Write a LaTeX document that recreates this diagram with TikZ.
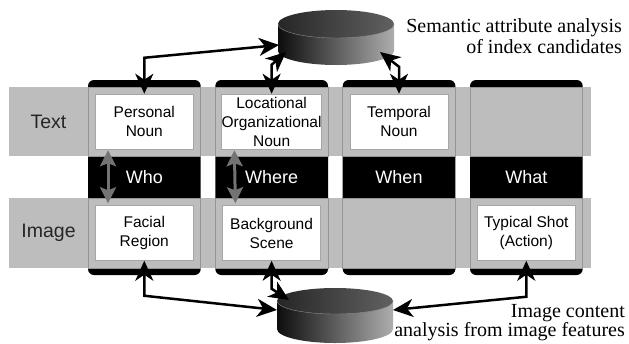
\documentclass[tikz,border=0pt]{standalone}
\usepackage{fontspec}
\setmainfont{Liberation Serif}
\newfontfamily\boxfont{Liberation Sans}
\usetikzlibrary{arrows.meta}
\begin{document}
\begin{tikzpicture}[x=1pt,y=1pt,
  colblk/.style={fill=black, rounded corners=6pt},
  band/.style={fill=black!26},
  bandedge/.style={draw=black!42, line width=0.8pt},
  wbox/.style={fill=white, draw=black!35, line width=0.5pt, minimum width=98pt, minimum height=55pt, inner sep=0pt, align=center, font=\boxfont\fontsize{15.5}{19}\selectfont},
  side/.style={font=\boxfont\fontsize{19.5}{22}\selectfont, text=black!85},
  wlabel/.style={font=\boxfont\fontsize{18}{20}\selectfont, text=white},
  captext/.style={font=\fontsize{20}{22}\selectfont, anchor=base east, inner sep=0pt},
  link/.style={line width=2.5pt, {Stealth[length=20pt,width=18pt,inset=6pt]}-{Stealth[length=20pt,width=18pt,inset=6pt]}},
  glink/.style={draw=black!55, line width=3pt, {Stealth[length=16pt,width=16pt,inset=3pt]}-{Stealth[length=16pt,width=16pt,inset=3pt]}},
  cylbody/.style={left color=black!95, right color=black!32},
  cyltop/.style={left color=black!85, right color=black!62},
  cylrim/.style={draw=black!45, line width=0.4pt},
]
\useasboundingbox (0,0) rectangle (629,-343);

% columns
\foreach \x in {88,215.3,342.7,470}
  \fill[colblk] (\x,-80) rectangle ++(112.7,-195);

% bands
\fill[band] (9,-87) rectangle (591,-156);
\fill[band] (9,-198) rectangle (591,-268);
\foreach \x in {88,215.3,342.7,470}{
  \draw[bandedge] (\x,-87) rectangle ++(112.7,-69);
  \draw[bandedge] (\x,-198) rectangle ++(112.7,-70);
}

% side labels
\node[side] (ltext) at (48.5,-121.5) {Text};
\node[side] (limage) at (48.5,-233) {Image};

% boxes
\node[wbox] (pn) at (144.3,-121.5) {Personal\\Noun};
\node[wbox] (ln) at (271.6,-121.5) {Locational\\Organizational\\Noun};
\node[wbox] (tn) at (399,-121.5) {Temporal\\Noun};
\node[wbox] (fr) at (144.3,-233) {Facial\\Region};
\node[wbox] (bs) at (271.6,-233) {Background\\Scene};
\node[wbox] (ts) at (526.3,-233) {Typical Shot\\(Action)};

% W labels
\node[wlabel] (who) at (144.3,-177) {Who};
\node[wlabel] (where) at (271.6,-177) {Where};
\node[wlabel] (when) at (399,-177) {When};
\node[wlabel] (what) at (526.3,-177) {What};

% gray arrows
\draw[glink] ([xshift=13pt,yshift=-1pt]pn.south west) -- ([xshift=13pt,yshift=2pt]fr.north west);
\draw[glink] ([xshift=13pt,yshift=-1pt]ln.south west) -- ([xshift=13pt,yshift=2pt]bs.north west);

% top cylinder
\shade[cylbody] (278,-24) -- (278,-51) arc[start angle=180,end angle=360,x radius=58pt,y radius=14pt] -- (394,-24) -- cycle;
\shade[cyltop] (336,-24) ellipse [x radius=58pt, y radius=14pt];
\draw[cylrim] (278,-24) arc[start angle=180,end angle=360,x radius=58pt,y radius=14pt];
\coordinate (tA) at (279,-45);
\coordinate (tB) at (286,-52);
\coordinate (tC) at (380,-52);

% bottom cylinder
\shade[cylbody] (277,-301) -- (277,-329) arc[start angle=180,end angle=360,x radius=58pt,y radius=14pt] -- (393,-301) -- cycle;
\shade[cyltop] (335,-301) ellipse [x radius=58pt, y radius=13pt];
\draw[cylrim] (277,-301) arc[start angle=180,end angle=360,x radius=58pt,y radius=13pt];
\coordinate (bA) at (277,-310);
\coordinate (bB) at (289,-300);
\coordinate (bC) at (393,-310);

% black links
\draw[link] (pn.north) -- ++(0,36) -- (tA);
\draw[link] (ln.north) -- ++(0,29) -- (tB);
\draw[link] (tn.north) -- ++(0,27) -- (tC);
\draw[link] (fr.south) -- ++(0,-35) -- (bA);
\draw[link] (bs.south) -- ++(0,-28) -- (bB);
\draw[link] (ts.south) -- ++(0,-36) -- (bC);

% captions
\node[captext] (capA1) at (622,-32) {Semantic attribute analysis};
\node[captext] (capA2) at (622,-53.5) {of index candidates};
\node[captext] (capB1) at (625,-317) {Image content};
\node[captext] (capB2) at (625,-336) {analysis from image features};
\end{tikzpicture}
\end{document}
